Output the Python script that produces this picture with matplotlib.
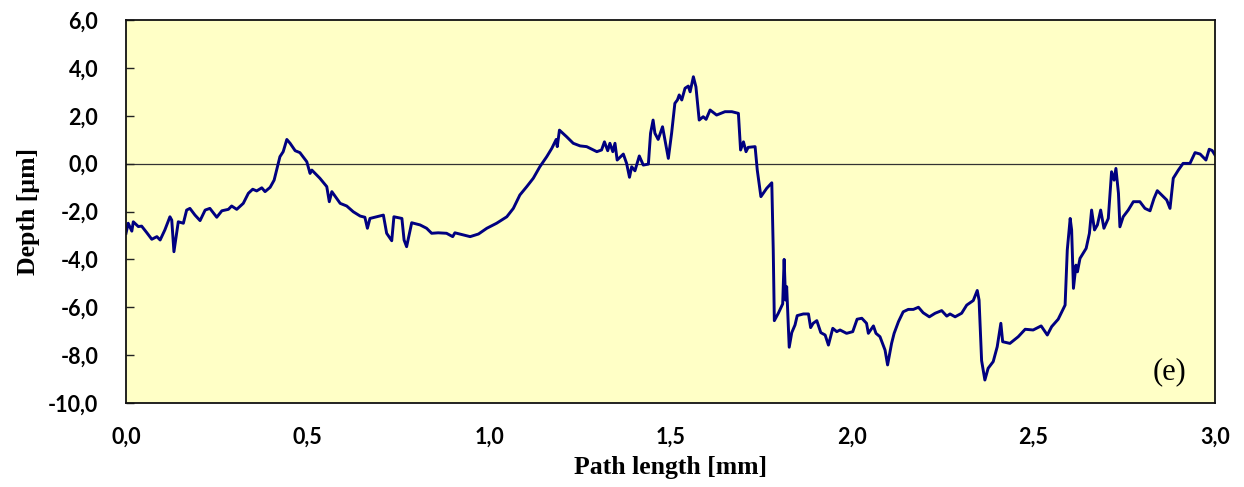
import matplotlib
matplotlib.use("Agg")
import matplotlib.pyplot as plt
from matplotlib.ticker import FuncFormatter

path_mm = [
    0.000, 0.006, 0.016, 0.020, 0.034, 0.043, 0.057, 0.071, 0.085, 0.094,
    0.107, 0.121, 0.126, 0.132, 0.144, 0.158, 0.167, 0.176, 0.190, 0.204,
    0.218, 0.231, 0.250, 0.264, 0.282, 0.291, 0.305, 0.323, 0.337, 0.349,
    0.360, 0.374, 0.383, 0.397, 0.408, 0.424, 0.433, 0.443, 0.452, 0.466,
    0.479, 0.498, 0.507, 0.512, 0.534, 0.553, 0.560, 0.567, 0.590, 0.608,
    0.626, 0.645, 0.658, 0.665, 0.672, 0.691, 0.709, 0.718, 0.732, 0.738,
    0.760, 0.766, 0.773, 0.787, 0.810, 0.828, 0.842, 0.860, 0.883, 0.900,
    0.906, 0.929, 0.948, 0.971, 0.994, 1.021, 1.049, 1.067, 1.085, 1.104,
    1.122, 1.140, 1.159, 1.173, 1.185, 1.188, 1.194, 1.214, 1.232, 1.251,
    1.269, 1.297, 1.310, 1.318, 1.327, 1.333, 1.341, 1.347, 1.353, 1.370,
    1.379, 1.387, 1.393, 1.402, 1.414, 1.425, 1.439, 1.445, 1.452, 1.457,
    1.466, 1.478, 1.494, 1.503, 1.512, 1.519, 1.524, 1.531, 1.540, 1.549,
    1.554, 1.563, 1.570, 1.579, 1.590, 1.598, 1.609, 1.627, 1.650, 1.669,
    1.687, 1.693, 1.701, 1.708, 1.714, 1.733, 1.739, 1.749, 1.765, 1.779,
    1.783, 1.786, 1.797, 1.809, 1.813, 1.817, 1.820, 1.827, 1.834, 1.843,
    1.849, 1.866, 1.880, 1.886, 1.893, 1.903, 1.914, 1.926, 1.935, 1.947,
    1.958, 1.967, 1.985, 2.002, 2.014, 2.027, 2.040, 2.045, 2.059, 2.066,
    2.077, 2.091, 2.098, 2.109, 2.116, 2.128, 2.141, 2.155, 2.169, 2.183,
    2.196, 2.213, 2.229, 2.247, 2.261, 2.270, 2.284, 2.302, 2.316, 2.334,
    2.345, 2.350, 2.357, 2.366, 2.375, 2.389, 2.400, 2.410, 2.415, 2.435,
    2.458, 2.477, 2.499, 2.521, 2.538, 2.550, 2.568, 2.587, 2.593, 2.601,
    2.605, 2.610, 2.617, 2.621, 2.628, 2.645, 2.654, 2.660, 2.668, 2.676,
    2.685, 2.694, 2.706, 2.715, 2.722, 2.727, 2.734, 2.738, 2.747, 2.761,
    2.775, 2.793, 2.807, 2.821, 2.832, 2.841, 2.853, 2.867, 2.876, 2.885,
    2.899, 2.912, 2.931, 2.945, 2.959, 2.975, 2.984, 2.992, 3.000,
]

depth_um = [
    -2.91, -2.49, -2.82, -2.43, -2.63, -2.61, -2.88, -3.16, -3.05, -3.19,
    -2.77, -2.22, -2.36, -3.68, -2.43, -2.49, -1.94, -1.87, -2.15, -2.38,
    -1.94, -1.87, -2.24, -1.97, -1.91, -1.77, -1.91, -1.66, -1.24, -1.07,
    -1.14, -1.01, -1.17, -0.99, -0.69, 0.29, 0.50, 1.01, 0.85, 0.54,
    0.46, 0.08, -0.41, -0.27, -0.61, -0.96, -1.59, -1.17, -1.66, -1.77,
    -2.01, -2.19, -2.24, -2.70, -2.29, -2.22, -2.15, -2.91, -3.22, -2.22,
    -2.29, -3.19, -3.47, -2.47, -2.56, -2.70, -2.91, -2.89, -2.91, -3.05,
    -2.89, -2.98, -3.05, -2.94, -2.70, -2.49, -2.22, -1.87, -1.31, -0.96,
    -0.61, -0.13, 0.29, 0.64, 1.01, 0.71, 1.40, 1.12, 0.85, 0.74,
    0.71, 0.50, 0.57, 0.91, 0.54, 0.85, 0.50, 0.85, 0.15, 0.40,
    0.01, -0.57, -0.13, -0.30, 0.32, -0.06, -0.02, 1.27, 1.82, 1.27,
    1.01, 1.54, 0.22, 1.27, 2.52, 2.66, 2.87, 2.66, 3.15, 3.24,
    3.00, 3.63, 3.21, 1.82, 1.96, 1.85, 2.24, 2.03, 2.17, 2.17,
    2.10, 0.57, 0.91, 0.50, 0.68, 0.71, -0.27, -1.38, -1.03, -0.80,
    -3.61, -6.56, -6.25, -5.86, -4.00, -5.70, -5.14, -7.67, -7.06, -6.74,
    -6.35, -6.28, -6.28, -6.85, -6.67, -6.56, -7.06, -7.16, -7.58, -6.88,
    -7.02, -6.95, -7.09, -7.02, -6.50, -6.46, -6.67, -7.09, -6.78, -7.09,
    -7.23, -7.79, -8.41, -7.51, -7.09, -6.60, -6.19, -6.09, -6.09, -6.00,
    -6.23, -6.40, -6.25, -6.14, -6.37, -6.28, -6.40, -6.25, -5.91, -5.72,
    -5.30, -5.70, -8.23, -9.04, -8.55, -8.27, -7.65, -6.67, -7.44, -7.51,
    -7.23, -6.92, -6.95, -6.78, -7.16, -6.81, -6.50, -5.91, -3.61, -2.29,
    -2.77, -5.21, -4.24, -4.52, -3.96, -3.54, -2.91, -1.94, -2.77, -2.56,
    -1.94, -2.70, -2.29, -0.34, -0.69, -0.20, -1.24, -2.64, -2.22, -1.94,
    -1.59, -1.59, -1.87, -1.97, -1.45, -1.13, -1.31, -1.52, -1.87, -0.61,
    -0.27, 0.01, 0.01, 0.46, 0.40, 0.15, 0.60, 0.55, 0.36,
]

x_ticks = [0.0, 0.5, 1.0, 1.5, 2.0, 2.5, 3.0]
y_ticks = [-10.0, -8.0, -6.0, -4.0, -2.0, 0.0, 2.0, 4.0, 6.0]
x_label = "Path length [mm]"
y_label = "Depth [µm]"
panel_label = "(e)"

fig = plt.figure(figsize=(12.44, 4.87), dpi=100)
ax = fig.add_axes([0.1013, 0.1725, 0.8754, 0.7864])
ax.set_facecolor("#FFFFC6")

ax.axhline(0, color="#333333", linewidth=0.9, zorder=1)
ax.plot(path_mm, depth_um, color="#000080", linewidth=2.1, zorder=2)

ax.set_xlim(0, 3.0)
ax.set_ylim(-10, 6)
ax.set_xticks(x_ticks)
ax.set_yticks(y_ticks)
fmt = FuncFormatter(lambda v, p: f"{v:.1f}".replace(".", ","))
ax.xaxis.set_major_formatter(fmt)
ax.yaxis.set_major_formatter(fmt)

for lab in ax.get_xticklabels() + ax.get_yticklabels():
    lab.set_fontfamily(["Lato", "DejaVu Sans"])
    lab.set_fontweight("bold")
    lab.set_fontsize(15.5)

ax.tick_params(axis="y", direction="in", length=6, width=1, pad=20, color="#222222")
ax.tick_params(axis="x", length=0, pad=17)

for s in ax.spines.values():
    s.set_linewidth(1.3)
    s.set_color("#111111")

ax.set_xlabel(x_label, family="Liberation Serif", weight="bold", fontsize=18.5, labelpad=6)
ax.set_ylabel(y_label, family="Liberation Serif", weight="bold", fontsize=18.5, labelpad=5.5)

ax.text(0.974, 0.081, panel_label, transform=ax.transAxes, family="Liberation Serif",
        fontsize=22, ha="right", va="center")

fig.savefig("out.png", dpi=100, facecolor="white")
